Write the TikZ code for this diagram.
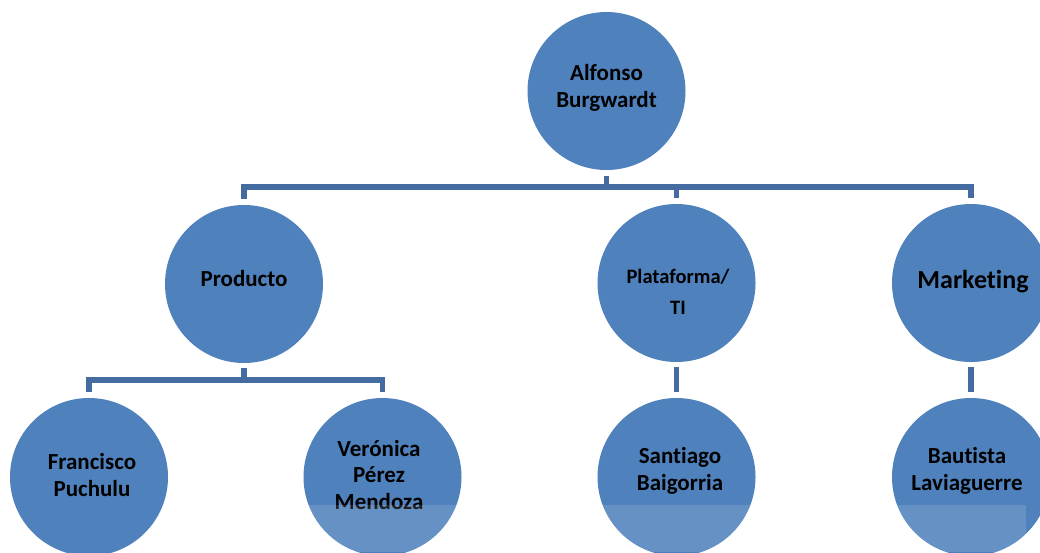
\documentclass[tikz,border=0pt]{standalone}
\usepackage{fontspec}
\setmainfont{Carlito}[Ligatures=NoCommon]
\definecolor{circblue}{RGB}{79,129,189}
\definecolor{lineblue}{RGB}{68,108,160}
\begin{document}
\begin{tikzpicture}[x=1pt,y=-1pt,
  person/.style={circle,fill=circblue,minimum size=158pt,inner sep=0pt,align=center,
    font=\bfseries\fontsize{23}{26.5}\selectfont,text=black},
  label/.style={align=center,text=black,font=\bfseries\fontsize{23}{26.5}\selectfont},
  conn/.style={draw=lineblue,line width=5.5pt,line join=miter}]
\useasboundingbox (0,0) rectangle (1040,552);
\fill[white] (0,0) rectangle (1040,552);
\begin{scope}
\clip (0,0) rectangle (1040,552);
\node[person] (top) at (606.5,91) {};
\node[label] (toptext) at (606.5,88) {Alfonso\\Burgwardt};
\node[person] (prod) at (244,284) {};
\node[label] (prodtext) at (244,279) {Producto};
\node[person] (plat) at (676.5,283) {};
\node[label,font=\bfseries\fontsize{20.5}{31}\selectfont] (plattext) at (678,292) {Plataforma/\\TI};
\node[person] (mkt) at (971,283) {};
\node[label,font=\bfseries\fontsize{26}{30}\selectfont] (mkttext) at (973,282) {Marketing};
\node[person] (fran) at (89,477) {};
\node[label] (frantext) at (92,475) {Francisco\\Puchulu};
\node[person] (vero) at (382.5,477) {};
\node[label] (verotext) at (379,475) {Verónica\\Pérez\\Mendoza};
\node[person] (sant) at (676.5,477) {};
\node[label] (santtext) at (680,471) {Santiago\\Baigorria};
\node[person] (baut) at (971,477) {};
\node[label] (bauttext) at (967,471) {Bautista\\Laviaguerre};

\coordinate (barA) at (0,187);
\coordinate (barB) at (0,380);
\draw[conn] ([yshift=-6pt]top.south) -- (top.south |- barA);
\draw[conn] ([yshift=6pt]prod.north) -- (prod.north |- barA) -- (mkt.north |- barA) -- ([yshift=6pt]mkt.north);
\draw[conn] (plat.north |- barA) -- ([yshift=6pt]plat.north);
\draw[conn] ([yshift=-5pt]prod.south) -- (prod.south |- barB);
\draw[conn] ([yshift=6pt]fran.north) -- (fran.north |- barB) -- (vero.north |- barB) -- ([yshift=6pt]vero.north);
\draw[conn] ([yshift=-5pt]plat.south) -- ([yshift=6pt]sant.north);
\draw[conn] ([yshift=-5pt]mkt.south) -- ([yshift=6pt]baut.north);

\fill[white,opacity=0.13] (300,505) rectangle (1026,552);
\end{scope}
\end{tikzpicture}
\end{document}
